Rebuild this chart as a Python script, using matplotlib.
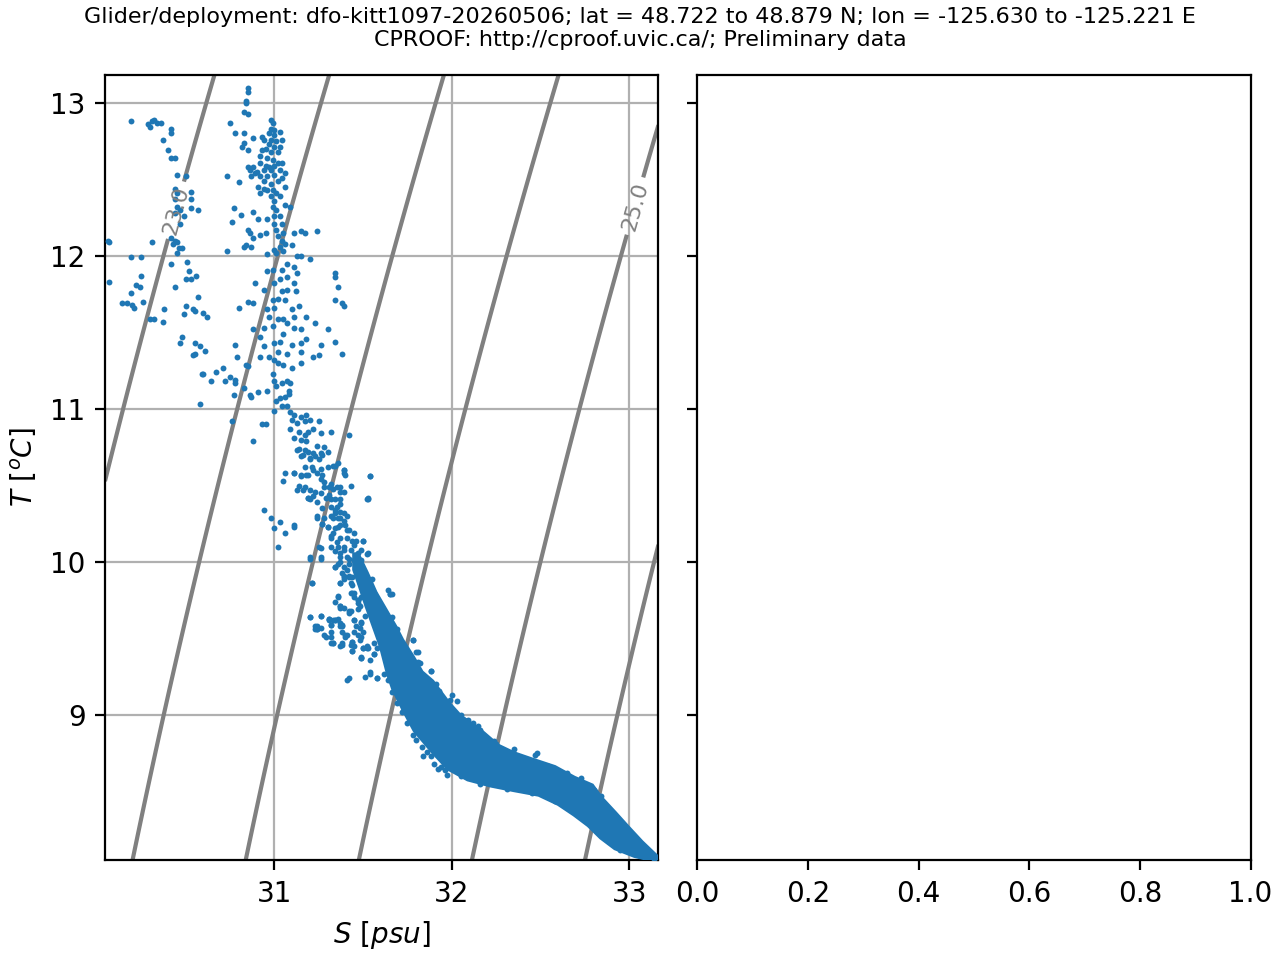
import matplotlib
matplotlib.use('Agg')
import matplotlib.pyplot as plt
import numpy as np

# scatter points (salinity [psu], temperature [degC])
sal = [
    # warm fresh group near S=30.4
    30.19, 30.29, 30.31, 30.32, 30.34, 30.36, 30.30, 30.42, 30.42, 30.37,
    30.40, 30.42, 30.44, 30.45, 30.50, 30.44, 30.45, 30.44, 30.45, 30.47,
    30.44, 30.53, 30.53, 30.53, 30.57, 30.49, 30.47, 30.42, 30.44, 30.45,
    30.43, 30.31, 30.06, 30.07, 30.46, 30.48, 30.45, 30.19, 30.25, 30.42,
    30.51, 30.52, 30.56, 30.53, 30.50, 30.25, 30.22, 30.24, 30.07, 30.19,
    30.26, 30.14, 30.17, 30.20, 30.21, 30.44, 30.57, 30.38, 30.50, 30.54,
    30.55, 30.60, 30.62, 30.49, 30.30, 30.32, 30.37, 30.48, 30.47, 30.55,
    30.58, 30.61, 30.54, 30.55,
    # column near S=31
    30.85, 30.85, 30.84, 30.84, 30.83, 30.85, 30.75, 30.78, 30.83, 30.88,
    30.83, 30.82, 30.73, 30.80, 30.85, 30.85, 30.86, 30.88, 30.87, 30.90,
    30.98, 30.99, 30.98, 31.00, 31.03, 30.97, 31.00, 30.93, 30.94, 30.98,
    31.01, 31.04, 30.97, 31.00, 31.03, 30.93, 30.95, 30.98, 31.02, 30.92,
    30.96, 30.99, 31.02, 31.04, 30.92, 30.95, 30.97, 31.00, 30.94, 30.98,
    31.03, 31.06, 30.89, 30.92, 30.96, 31.00, 31.04, 30.94, 30.98, 31.02,
    31.06, 30.91, 30.94, 30.96, 30.99, 31.01, 30.92, 30.98, 31.03, 31.00,
    31.06, 31.09, 30.99, 31.01, 31.00, 31.03, 30.96, 31.00, 31.04, 31.01,
    31.05, 31.02, 31.04, 31.06, 31.03, 31.11, 31.15, 31.17, 31.24, 31.10,
    31.13, 31.15, 31.20, 31.05, 31.00, 30.96, 31.07, 31.11, 31.13, 31.04,
    30.99, 30.96, 31.07, 31.03, 31.11, 31.07, 31.04, 31.12, 31.00, 30.89,
    30.94, 30.85, 30.88, 30.99, 31.02, 31.06, 31.10, 31.14, 31.00, 30.96,
    30.97, 31.02, 31.05, 31.07, 31.11, 31.18, 31.23, 31.30, 31.15, 31.11,
    31.05, 30.99, 30.94, 30.88, 30.92, 31.00, 31.03, 31.10, 31.15, 31.18,
    31.26, 31.34, 31.38, 31.25, 31.22, 31.15, 31.07, 31.02, 30.94, 30.92,
    30.97, 31.00, 31.02, 31.05, 31.15, 31.10, 30.84, 30.85, 30.79, 30.78,
    30.80, 31.34, 31.34, 31.36, 31.34, 31.38, 31.39, 30.73, 30.76, 30.77,
    30.81, 30.88, 30.91, 30.85, 30.86, 30.84, 30.83, 30.87, 30.88, 30.92,
    30.95, 31.01,
    # 11 degC and below, above the dense core
    30.59, 30.60, 30.67, 30.71, 30.64, 30.72, 30.75, 30.78, 30.78, 30.83,
    30.77, 30.86, 30.87, 30.91, 30.96, 30.58, 30.76, 30.93, 30.95, 30.88,
    31.00, 30.99, 31.00, 31.01, 31.04, 31.07, 31.09, 31.08, 31.08, 31.06,
    31.03, 31.01, 31.04, 31.07, 31.09, 31.11, 31.15, 31.18, 31.10, 31.13,
    31.17, 31.20, 31.25, 31.09, 31.14, 31.17, 31.19, 31.22, 31.26, 31.11,
    31.15, 31.18, 31.24, 31.14, 31.17, 31.19, 31.22, 31.27, 31.30, 31.15,
    31.20, 31.25, 31.32, 31.42, 31.17, 31.22, 31.26, 31.30, 31.34, 31.39,
    31.40, 31.06, 31.05, 31.11, 31.15, 31.18, 31.14, 31.17, 31.20, 31.26,
    31.28, 31.32, 31.35, 31.37, 31.43, 31.54, 31.52, 31.19, 31.22, 31.26,
    31.31, 31.34, 31.35, 31.37, 31.24, 31.27, 31.32, 31.34, 31.37, 31.41,
    31.30, 31.34, 31.37, 31.41, 31.45, 31.32, 31.35, 31.39, 31.45, 31.49,
    31.50, 31.37, 31.42, 31.47, 31.52, 31.34, 31.37, 31.20, 31.26, 31.25,
    30.94, 30.98, 31.03, 31.00, 31.06, 31.11, 31.02,
    # top of the core, 9.2-10.8 degC
    31.13, 31.16, 31.20, 31.23, 31.26, 31.28, 31.21, 31.11, 31.15, 31.19,
    31.24, 31.27, 31.33, 31.36, 31.39, 31.39, 31.54, 31.13, 31.16, 31.23,
    31.28, 31.31, 31.33, 31.37, 31.39, 31.19, 31.20, 31.24, 31.29, 31.32,
    31.37, 31.53, 31.27, 31.32, 31.34, 31.37, 31.39, 31.24, 31.28, 31.33,
    31.36, 31.39, 31.27, 31.30, 31.36, 31.40, 31.42, 31.11, 31.32, 31.33,
    31.37, 31.41, 31.44, 31.46, 31.50, 31.32, 31.36, 31.39, 31.43, 31.47,
    31.53, 31.26, 31.37, 31.41, 31.45, 31.49, 31.20, 31.26, 31.34, 31.39,
    31.42, 31.38, 31.39, 31.42, 31.43, 31.21, 31.37, 31.44, 31.45, 31.66,
    31.36, 31.47, 31.37, 31.42, 31.47, 31.20, 31.26, 31.31, 31.33, 31.37,
    31.45, 31.49, 31.24, 31.32, 31.38, 31.40, 31.29, 31.45, 31.49, 31.33,
    31.38, 31.44, 31.50, 31.53, 31.56, 31.44, 31.49, 31.54, 31.54, 31.42,
    31.58, 31.78, 31.81, 31.81, 31.88, 31.69, 31.65, 31.53, 31.53,
    # scattered points left of the core, 9-10 degC
    31.20, 31.26, 31.31, 31.34, 31.24, 31.24, 31.26, 31.32, 31.36, 31.37,
    31.42, 31.39, 31.45, 31.41, 31.44, 31.47, 31.48, 31.52, 31.56, 31.64,
    31.49, 31.47, 31.52, 31.37, 31.32, 31.32, 31.37, 31.43, 31.49, 31.45,
    31.52, 31.56, 31.65, 31.66, 31.61, 31.67, 31.21, 31.23, 31.24, 31.23,
    31.28, 31.31, 31.34, 31.32, 31.34, 31.36, 31.37, 31.38, 31.38, 31.33,
    31.38, 31.40, 31.41, 31.43, 31.44, 31.44, 31.45, 31.48, 31.46, 31.48,
    31.49, 31.50, 31.47, 31.48, 31.50, 31.52, 31.49, 31.54, 31.51, 31.58,
    31.41, 31.56, 31.60, 31.58, 31.43, 31.44, 31.42, 31.39, 31.39, 31.37,
    31.34, 31.36, 31.47, 31.51, 31.53, 31.55, 31.65,
    # along the edges of the dense core
    31.78, 31.80, 31.82, 31.88, 31.85, 31.91, 31.93, 31.94, 32.00, 31.99,
    32.05, 32.07, 32.09, 32.12, 32.15, 32.16, 32.25, 32.27, 32.47, 32.48,
    31.75, 31.78, 31.80, 31.83, 31.86, 31.88, 31.90, 31.92, 31.96, 31.97,
    31.71, 31.73, 31.70, 31.66, 31.64, 31.62, 31.72, 31.73, 31.70, 31.69,
    32.80, 32.84, 32.86, 32.88, 32.92, 32.95, 32.98, 33.03, 33.06, 33.09,
    33.12, 33.14, 32.03, 32.24, 32.35, 32.54, 32.65, 32.73,
    31.84, 31.94, 32.05, 32.16, 32.31, 32.45, 32.58, 32.65, 32.73, 32.80,
    32.88, 32.95,
]
temp = [
    12.88, 12.86, 12.88, 12.89, 12.87, 12.87, 12.84, 12.83, 12.80, 12.76,
    12.69, 12.64, 12.64, 12.53, 12.52, 12.44, 12.41, 12.37, 12.32, 12.30,
    12.28, 12.42, 12.37, 12.31, 12.30, 12.26, 12.21, 12.12, 12.10, 12.09,
    12.08, 12.09, 12.10, 12.09, 12.05, 12.05, 12.02, 11.99, 11.99, 11.95,
    11.96, 11.90, 11.87, 11.85, 11.85, 11.87, 11.81, 11.80, 11.83, 11.76,
    11.70, 11.69, 11.69, 11.68, 11.66, 11.80, 11.73, 11.65, 11.67, 11.65,
    11.64, 11.63, 11.60, 11.62, 11.59, 11.59, 11.57, 11.47, 11.43, 11.43,
    11.41, 11.38, 11.35, 11.36,
    13.10, 13.07, 13.01, 13.00, 12.94, 12.93, 12.87, 12.80, 12.80, 12.77,
    12.74, 12.71, 12.52, 12.48, 12.69, 12.58, 12.56, 12.58, 12.52, 12.55,
    12.89, 12.87, 12.83, 12.82, 12.81, 12.80, 12.79, 12.78, 12.76, 12.76,
    12.75, 12.76, 12.73, 12.71, 12.71, 12.69, 12.70, 12.68, 12.68, 12.65,
    12.64, 12.63, 12.61, 12.61, 12.61, 12.59, 12.58, 12.59, 12.56, 12.56,
    12.56, 12.54, 12.54, 12.52, 12.52, 12.53, 12.51, 12.49, 12.47, 12.49,
    12.45, 12.45, 12.44, 12.43, 12.43, 12.41, 12.41, 12.39, 12.39, 12.36,
    12.33, 12.32, 12.32, 12.30, 12.26, 12.26, 12.24, 12.21, 12.21, 12.17,
    12.15, 12.13, 12.10, 12.08, 12.06, 12.15, 12.16, 12.15, 12.16, 12.07,
    12.00, 12.00, 11.98, 12.03, 12.04, 12.01, 11.95, 11.93, 11.89, 11.91,
    11.91, 11.90, 11.86, 11.85, 11.82, 11.78, 11.77, 11.77, 11.82, 11.82,
    11.78, 11.70, 11.69, 11.71, 11.72, 11.71, 11.65, 11.67, 11.66, 11.65,
    11.60, 11.59, 11.59, 11.56, 11.60, 11.60, 11.56, 11.52, 11.52, 11.53,
    11.49, 11.54, 11.53, 11.52, 11.47, 11.43, 11.44, 11.42, 11.43, 11.46,
    11.42, 11.44, 11.36, 11.35, 11.34, 11.37, 11.36, 11.37, 11.41, 11.34,
    11.34, 11.32, 11.30, 11.29, 11.30, 11.27, 11.29, 11.28, 11.34, 11.42,
    11.66, 11.89, 11.86, 11.80, 11.71, 11.69, 11.67, 12.03, 12.22, 12.31,
    12.27, 12.29, 12.24, 12.17, 12.15, 12.07, 12.06, 12.06, 12.12, 12.14,
    12.15, 12.02,
    11.23, 11.23, 11.24, 11.27, 11.18, 11.18, 11.21, 11.19, 11.17, 11.14,
    11.09, 11.09, 11.08, 11.11, 11.12, 11.03, 10.92, 10.90, 10.90, 10.79,
    10.99, 11.23, 11.18, 11.15, 11.17, 11.18, 11.17, 11.12, 11.10, 11.08,
    11.07, 11.05, 11.02, 11.02, 10.98, 10.96, 10.95, 10.96, 10.93, 10.91,
    10.92, 10.93, 10.92, 10.87, 10.85, 10.83, 10.85, 10.87, 10.84, 10.81,
    10.80, 10.79, 10.76, 10.74, 10.73, 10.72, 10.71, 10.70, 10.72, 10.69,
    10.68, 10.67, 10.85, 10.83, 10.62, 10.60, 10.61, 10.62, 10.63, 10.60,
    10.57, 10.58, 10.53, 10.58, 10.56, 10.57, 10.50, 10.49, 10.47, 10.54,
    10.49, 10.51, 10.49, 10.46, 10.50, 10.56, 10.41, 10.42, 10.43, 10.45,
    10.44, 10.41, 10.36, 10.38, 10.30, 10.25, 10.30, 10.32, 10.29, 10.30,
    10.23, 10.22, 10.24, 10.21, 10.19, 10.17, 10.13, 10.10, 10.11, 10.08,
    10.14, 10.06, 10.02, 10.01, 10.05, 10.07, 10.00, 10.02, 10.02, 10.10,
    10.34, 10.29, 10.26, 10.22, 10.19, 10.24, 10.10,
    10.73, 10.70, 10.67, 10.69, 10.71, 10.75, 10.62, 10.58, 10.57, 10.57,
    10.58, 10.57, 10.63, 10.65, 10.60, 10.58, 10.56, 10.47, 10.47, 10.46,
    10.52, 10.49, 10.48, 10.49, 10.46, 10.42, 10.41, 10.39, 10.42, 10.41,
    10.41, 10.41, 10.35, 10.36, 10.34, 10.33, 10.32, 10.29, 10.29, 10.29,
    10.29, 10.27, 10.25, 10.23, 10.23, 10.24, 10.21, 10.23, 10.16, 10.19,
    10.16, 10.16, 10.14, 10.14, 10.14, 10.10, 10.10, 10.08, 10.08, 10.06,
    10.06, 10.09, 10.03, 10.03, 10.01, 10.01, 10.03, 10.03, 9.97, 9.97,
    9.99, 9.93, 9.90, 9.90, 9.86, 9.86, 9.86, 9.80, 9.80, 9.79,
    9.77, 9.75, 9.71, 9.67, 9.69, 9.64, 9.65, 9.62, 9.62, 9.60,
    9.62, 9.61, 9.57, 9.59, 9.54, 9.51, 9.51, 9.54, 9.51, 9.47,
    9.47, 9.48, 9.44, 9.44, 9.47, 9.42, 9.37, 9.36, 9.27, 9.24,
    9.24, 9.49, 9.41, 9.35, 9.29, 9.56, 9.79, 9.86, 10.42,
    9.64, 9.65, 9.63, 9.62, 9.58, 9.56, 9.57, 9.54, 9.63, 9.70,
    9.68, 9.70, 9.77, 9.95, 9.90, 9.92, 9.86, 9.81, 9.80, 9.82,
    9.77, 9.75, 9.80, 9.58, 9.51, 9.47, 9.45, 9.46, 9.38, 9.45,
    9.45, 9.40, 9.58, 9.64, 9.63, 9.56, 9.86, 9.58, 9.56, 9.56,
    9.52, 9.63, 9.62, 9.59, 9.74, 9.78, 9.71, 9.59, 9.58, 9.47,
    9.46, 9.52, 9.52, 9.68, 9.48, 9.42, 9.62, 9.71, 9.58, 9.57,
    9.60, 9.54, 9.52, 9.49, 9.44, 9.44, 9.37, 9.28, 9.25, 9.24,
    9.23, 9.40, 9.46, 9.44, 9.80, 9.85, 9.91, 9.91, 9.89, 9.86,
    9.97, 9.99, 9.73, 9.65, 9.80, 9.89, 9.79,
    9.49, 9.41, 9.34, 9.29, 9.25, 9.20, 9.16, 9.12, 9.13, 9.10,
    9.00, 8.97, 8.97, 8.95, 8.93, 8.90, 8.81, 8.78, 8.74, 8.75,
    8.95, 8.87, 8.84, 8.79, 8.76, 8.73, 8.68, 8.65, 8.64, 8.61,
    9.09, 9.03, 9.13, 9.15, 9.23, 9.27, 9.02, 9.04, 9.11, 9.08,
    8.51, 8.47, 8.40, 8.34, 8.27, 8.23, 8.19, 8.17, 8.16, 8.11,
    8.10, 8.06, 9.09, 8.83, 8.78, 8.67, 8.62, 8.59,
    8.73, 8.66, 8.60, 8.55, 8.52, 8.49, 8.44, 8.40, 8.34, 8.27,
    8.18, 8.12,
]

# outline of the densest part of the cloud (upper edge, then lower edge back)
core_sal = [31.47, 31.52, 31.57, 31.62, 31.68, 31.72, 31.78, 31.83,
            31.89, 31.98, 32.05, 32.16, 32.26, 32.35, 32.45, 32.58, 32.69,
            32.79, 32.84, 32.92, 32.99, 33.07, 33.16,
            33.14, 33.03, 32.92, 32.84, 32.77, 32.69, 32.60, 32.49, 32.35,
            32.22, 32.09, 31.98, 31.90, 31.79, 31.73, 31.67, 31.64, 31.60,
            31.56, 31.52, 31.48, 31.45, 31.45]
core_temp = [10.05, 9.93, 9.80, 9.70, 9.58, 9.49, 9.38, 9.28,
             9.22, 9.08, 8.99, 8.90, 8.80, 8.75, 8.71, 8.66, 8.59,
             8.54, 8.46, 8.36, 8.27, 8.17, 8.07,
             8.05, 8.08, 8.13, 8.20, 8.28, 8.35, 8.42, 8.48, 8.51,
             8.54, 8.58, 8.65, 8.75, 8.90, 9.03, 9.17, 9.27, 9.45,
             9.58, 9.71, 9.85, 9.95, 10.05]

smin, smax = 30.045, 33.164
tmin, tmax = 8.052, 13.183
plain_levels = [23.5, 24.0, 24.5, 25.5]
label_levels = [23.0, 25.0]
label_spots = [(30.44, 12.30), (33.02, 12.33)]


def sigma0(S, T):
    # UNESCO 1983 density at the surface, minus 1000
    rw = (999.842594 + 6.793952e-2 * T - 9.095290e-3 * T**2
          + 1.001685e-4 * T**3 - 1.120083e-6 * T**4 + 6.536332e-9 * T**5)
    A = (8.24493e-1 - 4.0899e-3 * T + 7.6438e-5 * T**2
         - 8.2467e-7 * T**3 + 5.3875e-9 * T**4)
    B = -5.72466e-3 + 1.0227e-4 * T - 1.6546e-6 * T**2
    C = 4.8314e-4
    return rw + A * S + B * S**1.5 + C * S**2 - 1000.


fig, axs = plt.subplots(1, 2, sharey=True, figsize=(6.4, 4.8), dpi=200)
fig.subplots_adjust(left=0.082, right=0.977, bottom=0.104, top=0.922,
                    wspace=0.07)

ax = axs[0]
ss, tt = np.meshgrid(np.linspace(smin, smax, 200), np.linspace(tmin, tmax, 200))
dens = sigma0(ss, tt)
ax.contour(ss, tt, dens, levels=plain_levels, colors='0.5', linewidths=1.5)
cs = ax.contour(ss, tt, dens, levels=label_levels, colors='0.5', linewidths=1.5)
ax.clabel(cs, fontsize=8, fmt='%1.1f', manual=label_spots)

ax.fill(core_sal, core_temp, color='C0', lw=1.5, zorder=3)
ax.scatter(sal, temp, s=4.5, c='C0', linewidths=0, zorder=3)

ax.set_xlim(smin, smax)
ax.set_ylim(tmin, tmax)
ax.set_xticks([31, 32, 33])
ax.grid(True)
ax.set_xlabel('$S\\ [psu]$')
ax.set_ylabel('$T\\ [^oC]$')

fig.suptitle('Glider/deployment: dfo-kitt1097-20260506; lat = 48.722 to 48.879 N; '
             'lon = -125.630 to -125.221 E\nCPROOF: http://cproof.uvic.ca/; '
             'Preliminary data', fontsize=8, y=0.993)

plt.savefig('out.png')
